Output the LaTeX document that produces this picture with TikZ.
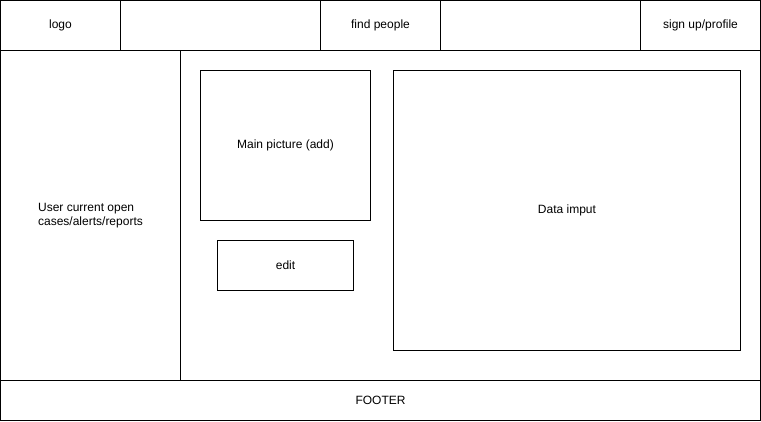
\documentclass[tikz,border=0pt]{standalone}
\usepackage{fontspec}
\setmainfont{Liberation Sans}
\usetikzlibrary{positioning}

\begin{document}
\begin{tikzpicture}[x=1pt, y=-1pt, line width=1pt, node distance=0pt,
  txt/.style={inner sep=0pt, outer sep=0pt, font=\fontsize{12}{14}\selectfont},
  box/.style={txt, draw, rectangle},
  cell/.style={box, minimum height=50pt}]
  \useasboundingbox (0,0) rectangle (761,421);
  % Header bar
  \node[cell, anchor=north west, minimum width=120pt] (logo) at (0.5,0.5) {logo};
  \node[cell, minimum width=200pt] (gap1) [right=of logo] {};
  \node[cell, minimum width=120pt] (find) [right=of gap1] {find people};
  \node[cell, minimum width=200pt] (gap2) [right=of find] {};
  \node[cell, minimum width=120pt] (sign) [right=of gap2] {sign up/profile};
  % Side panel and content area
  \node[box, anchor=north west, minimum width=180pt, minimum height=330pt] (side) at (0.5,50.5) {};
  \node[txt, align=left] (cases) at (side.center) {User current open\\cases/alerts/reports};
  \node[box, minimum width=580pt, minimum height=330pt] (content) [right=of side] {};
  % Content boxes
  \node[box, anchor=north west, minimum width=170pt, minimum height=150pt] (picture) at (200.5,70.5) {Main picture (add)};
  \node[box, anchor=north west, minimum width=136pt, minimum height=50pt] (edit) at (217.5,240.5) {edit};
  \node[box, anchor=north west, minimum width=347pt, minimum height=280pt] (data) at (393.5,70.5) {Data imput};
  % Footer
  \node[box, anchor=north west, minimum width=760pt, minimum height=40pt] (footer) at (0.5,380.5) {FOOTER};
\end{tikzpicture}
\end{document}
